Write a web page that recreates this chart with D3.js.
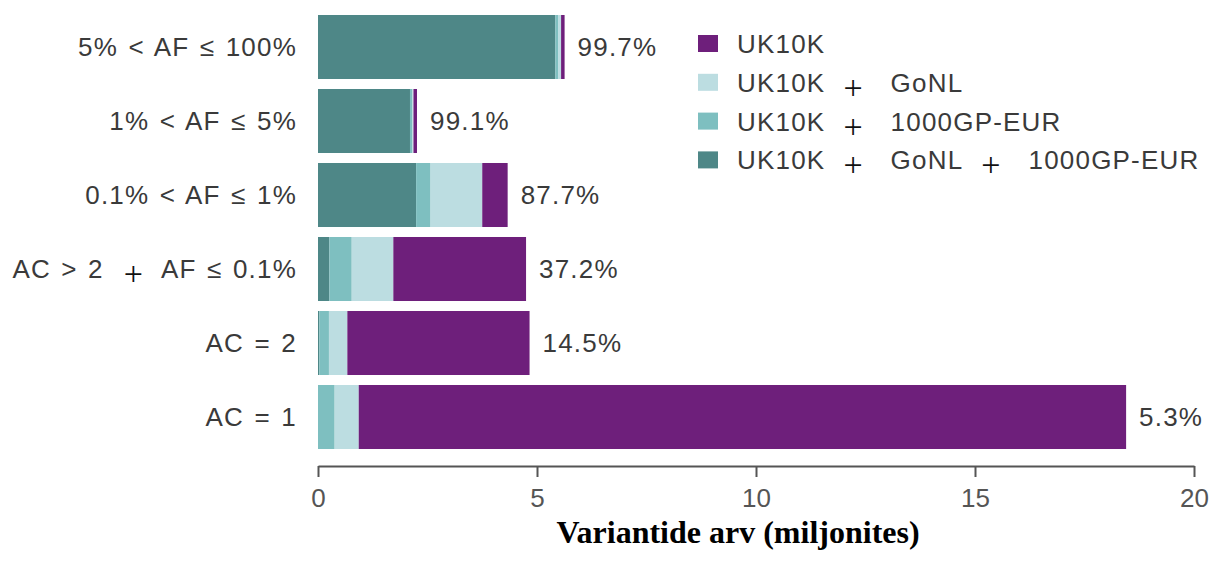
<!DOCTYPE html>
<html>
<head>
<meta charset="utf-8">
<script src="https://cdn.jsdelivr.net/npm/d3@7"></script>
<style>
  body { margin: 0; background: #fff; }
  svg { display: block; }
</style>
</head>
<body>
<svg id="chart" width="1216" height="562"></svg>
<script>
// Allele-frequency classes, top to bottom
const categories = ["5% < AF ≤ 100%", "1% < AF ≤ 5%", "0.1% < AF ≤ 1%", "AC > 2 + AF ≤ 0.1%", "AC = 2", "AC = 1"];

// Variant counts in millions, per sharing group
const sharedAll   = [5.42, 2.10, 2.24, 0.26, 0.03, 0.00];  // UK10K + GoNL + 1000GP-EUR
const shared1000G = [0.07, 0.05, 0.33, 0.51, 0.22, 0.38];  // UK10K + 1000GP-EUR
const sharedGoNL  = [0.06, 0.03, 1.18, 0.95, 0.42, 0.55];  // UK10K + GoNL
const uk10kOnly   = [0.08, 0.08, 0.58, 3.03, 4.16, 17.52]; // UK10K only

// Share of variants also found elsewhere
const sharedPct = ["99.7%", "99.1%", "87.7%", "37.2%", "14.5%", "5.3%"];

// Legend entries, top to bottom
const legendNames = ["UK10K", "UK10K + GoNL", "UK10K + 1000GP-EUR", "UK10K + GoNL + 1000GP-EUR"];
const legendKeys  = ["uk", "gonl", "g1000", "all"];

const xTicks = [0, 5, 10, 15, 20];
const xTitle = "Variantide arv (miljonites)";

const colors = { uk: "#6e1f7b", gonl: "#bcdde1", g1000: "#7ebfc0", all: "#4e8787" };

const rows = categories.map((c, i) => ({
  cat: c, all: sharedAll[i], g1000: shared1000G[i], gonl: sharedGoNL[i], uk: uk10kOnly[i], pct: sharedPct[i]
}));
const stackKeys = ["all", "g1000", "gonl", "uk"];
const stacked = d3.stack().keys(stackKeys)(rows);

const svg = d3.select("#chart");
const sansFont = "'Liberation Sans', Arial, Helvetica, sans-serif";
const serifFont = "'Liberation Serif', 'Times New Roman', serif";

const x = d3.scaleLinear().domain([0, 20]).range([318, 1194]);
const y = d3.scaleBand().domain(categories).range([10, 454]).paddingInner(0.135).paddingOuter(0.0675);

// Text with a serif, lowered "+" between its parts
function richText(text, label, gapBefore, gapAfter) {
  const parts = label.split(" + ");
  parts.forEach((p, i) => {
    if (i > 0) {
      text.append("tspan").attr("dx", gapBefore).attr("dy", 7)
        .style("font-family", serifFont).style("font-size", "34px")
        .style("letter-spacing", "0px").style("word-spacing", "0px")
        .attr("fill", "#111").text("+");
      text.append("tspan").attr("dx", gapAfter).attr("dy", -7).text(p);
    } else {
      text.append("tspan").text(p);
    }
  });
}

// Stacked bars
svg.append("g").selectAll("g").data(stacked).join("g")
  .attr("fill", d => colors[d.key])
  .selectAll("rect").data(d => d).join("rect")
  .attr("x", d => x(d[0]))
  .attr("y", d => y(d.data.cat))
  .attr("width", d => Math.max(0, x(d[1]) - x(d[0])))
  .attr("height", y.bandwidth());

// Category labels
svg.append("g").selectAll("text").data(categories).join("text")
  .attr("x", 297)
  .attr("y", d => y(d) + y.bandwidth() / 2 + 9)
  .attr("text-anchor", "end")
  .attr("fill", "#3a3a3a")
  .style("font-family", sansFont)
  .style("font-size", "26px")
  .style("letter-spacing", "1.2px")
  .style("word-spacing", "2px")
  .each(function (d) { richText(d3.select(this), d, 20, 18); });

// Percentage labels at bar ends
svg.append("g").selectAll("text").data(rows).join("text")
  .attr("x", d => x(d.all + d.g1000 + d.gonl + d.uk) + 13)
  .attr("y", d => y(d.cat) + y.bandwidth() / 2 + 9)
  .attr("fill", "#3a3a3a")
  .style("font-family", sansFont)
  .style("font-size", "26px")
  .style("letter-spacing", "1.2px")
  .text(d => d.pct);

// X axis
const axis = svg.append("g")
  .attr("transform", "translate(0,466)")
  .call(d3.axisBottom(x).tickValues(xTicks).tickSize(11).tickSizeOuter(0).tickPadding(12).tickFormat(d3.format("d")));
axis.select(".domain").attr("stroke", "#555").attr("stroke-width", 2);
axis.selectAll(".tick line").attr("stroke", "#555").attr("stroke-width", 2);
axis.selectAll(".tick text")
  .attr("fill", "#555")
  .style("font-family", sansFont)
  .style("font-size", "26px");

// Axis title
svg.append("text")
  .attr("x", 738).attr("y", 543)
  .attr("text-anchor", "middle")
  .style("font-family", serifFont)
  .style("font-size", "32px")
  .style("font-weight", "bold")
  .attr("fill", "#000")
  .text(xTitle);

// Legend
const legend = svg.append("g").selectAll("g").data(legendNames).join("g")
  .attr("transform", (d, i) => `translate(698, ${35 + i * 38.8})`);
legend.append("rect")
  .attr("width", 20).attr("height", 17)
  .attr("fill", (d, i) => colors[legendKeys[i]]);
legend.append("text")
  .attr("x", 39).attr("y", 18)
  .attr("fill", "#3a3a3a")
  .style("font-family", sansFont)
  .style("font-size", "26px")
  .style("letter-spacing", "1.2px")
  .each(function (d) { richText(d3.select(this), d, 18, 28); });
</script>
</body>
</html>
